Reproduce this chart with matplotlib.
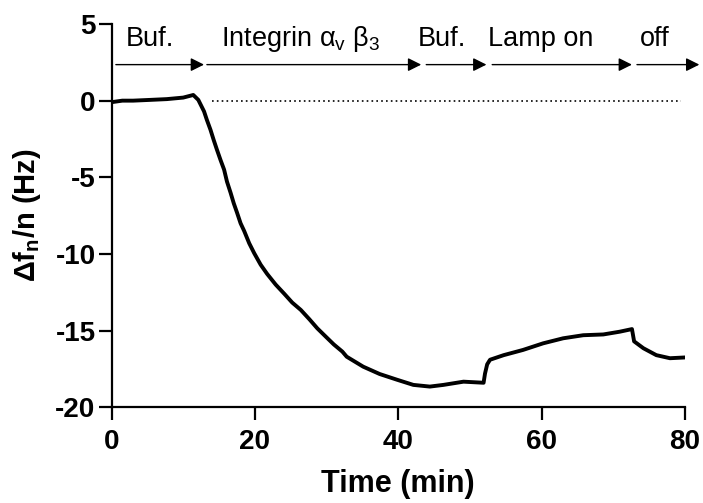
"""
QCM-D style trace: frequency shift during integrin adsorption and lamp on/off.
"""

import matplotlib.pyplot as plt

plt.rcParams["font.family"] = ["Liberation Sans", "DejaVu Sans"]
plt.rcParams["mathtext.fontset"] = "custom"
plt.rcParams["mathtext.rm"] = "Liberation Sans"
plt.rcParams["mathtext.it"] = "Liberation Sans"
plt.rcParams["mathtext.bf"] = "Liberation Sans:bold"
plt.rcParams["axes.unicode_minus"] = False

# trace (time in min, shift in Hz)
time_min = [
    0.0, 1.5, 3.0, 5.4, 7.7, 10.0, 11.4, 12.1, 12.9, 13.3, 13.8, 14.25, 14.7,
    15.2, 15.7, 16.1, 16.6, 17.05, 17.5, 18.0, 18.5, 19.2, 19.9, 20.8, 21.7,
    22.9, 24.1, 25.2, 26.4, 27.6, 28.7, 29.9, 31.0, 32.2, 32.8, 35.1, 37.4,
    39.8, 42.1, 44.4, 46.3, 49.1, 51.9, 52.1, 52.4, 52.8, 54.7, 57.4, 60.2,
    63.0, 65.8, 68.6, 70.9, 72.6, 72.9, 74.2, 76.0, 77.9, 80.0,
]
shift_hz = [
    -0.1, 0.0, 0.0, 0.05, 0.1, 0.2, 0.37, 0.05, -0.7, -1.26, -1.9, -2.57,
    -3.2, -3.87, -4.5, -5.28, -6.0, -6.7, -7.3, -8.0, -8.5, -9.3, -9.95,
    -10.7, -11.3, -12.0, -12.6, -13.17, -13.65, -14.26, -14.85, -15.4, -15.9,
    -16.37, -16.7, -17.35, -17.83, -18.2, -18.54, -18.65, -18.54, -18.33,
    -18.4, -17.8, -17.2, -16.9, -16.6, -16.26, -15.83, -15.5, -15.3, -15.25,
    -15.07, -14.9, -15.7, -16.15, -16.6, -16.8, -16.75,
]

# phase arrows along the top: (start, end) in min, label, label centre
arrow_starts = [0.6, 13.3, 43.9, 53.1, 73.3]
arrow_ends = [12.9, 43.2, 52.3, 72.6, 82.0]
phase_labels = ["Buf.", r"Integrin $\alpha_v\ \beta_3$", "Buf.", "Lamp on", "off"]
label_centres = [5.3, 26.3, 46.1, 59.8, 75.8]

x_ticks = [0, 20, 40, 60, 80]
y_ticks = [-20, -15, -10, -5, 0, 5]

fig = plt.figure(figsize=(7.03, 5.03), dpi=100)
ax = fig.add_axes([0.1587, 0.1903, 0.8157, 0.762])

ax.plot(time_min, shift_hz, color="black", lw=2.8, solid_joinstyle="round",
        solid_capstyle="round")
ax.plot([14.0, 79.5], [0, 0], color="black", lw=1.2, linestyle=(0, (1, 1.9)))

for start, end in zip(arrow_starts, arrow_ends):
    ax.annotate(
        "", xy=(end, 2.35), xytext=(start, 2.35),
        arrowprops=dict(arrowstyle="-|>", color="black", lw=1.0,
                        mutation_scale=20, shrinkA=0, shrinkB=0),
        annotation_clip=False,
    )
for label, centre in zip(phase_labels, label_centres):
    ax.text(centre, 3.57, label, ha="center", va="baseline", fontsize=19.5,
            clip_on=False)

ax.set_xlim(0, 80)
ax.set_ylim(-20, 5)
ax.set_xticks(x_ticks)
ax.set_yticks(y_ticks)
ax.spines["top"].set_visible(False)
ax.spines["right"].set_visible(False)
for side in ("left", "bottom"):
    ax.spines[side].set_linewidth(1.6)
ax.tick_params(width=1.6, length=9.5, labelsize=20)
ax.tick_params(axis="x", pad=6)
ax.tick_params(axis="y", pad=2)
for tick_label in ax.get_xticklabels() + ax.get_yticklabels():
    tick_label.set_fontweight("bold")

ax.set_xlabel("Time (min)", fontsize=22, fontweight="bold", labelpad=10)
ax.set_ylabel(r"$\mathbf{\Delta f_n/n}$ (Hz)", fontsize=21, fontweight="bold",
              labelpad=9)

fig.savefig("out.png", dpi=100)
